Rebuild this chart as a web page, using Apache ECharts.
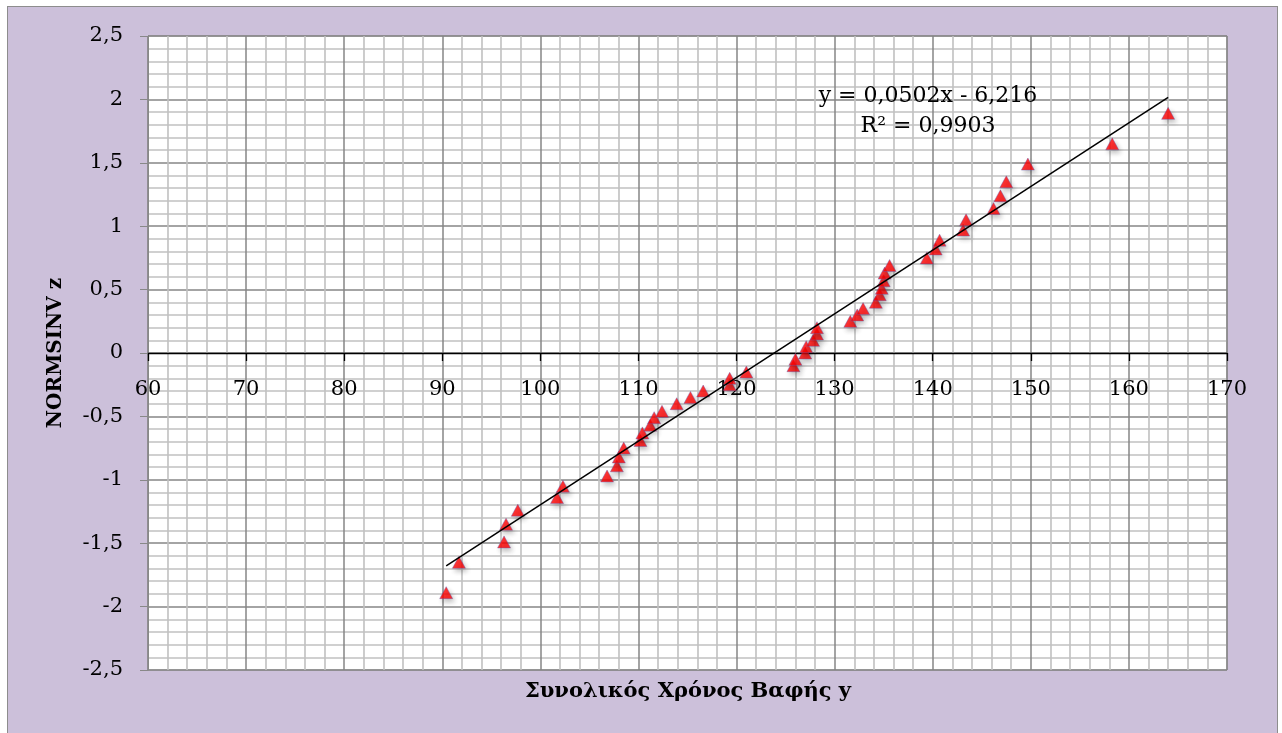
<!DOCTYPE html>
<html>
<head>
<meta charset="utf-8">
<title>NORMSINV z – Συνολικός Χρόνος Βαφής</title>
<script src="https://cdn.jsdelivr.net/npm/echarts@6/dist/echarts.min.js"></script>
<style>
  html, body { margin: 0; padding: 0; background: #ffffff; }
  #frame {
    position: absolute; left: 7px; top: 6px; width: 1271px; height: 731px;
    box-sizing: border-box; background: #CCC0DA; border: 1px solid #8D8D8D;
  }
  #chart { position: absolute; left: 0; top: 0; width: 1282px; height: 733px; }
</style>
</head>
<body>
<div id="frame"></div>
<div id="chart"></div>
<script>
// Total dyeing time (x) and the normal score of each observation (z)
const dyeTime = [
  90.4, 91.7, 96.3, 96.5, 97.7, 101.7, 102.3, 106.8, 107.8, 108.0,
  108.5, 110.2, 110.4, 111.2, 111.6, 112.4, 113.9, 115.3, 116.6, 119.3,
  119.3, 121.0, 125.8, 126.0, 127.0, 127.1, 127.8, 128.2, 128.2, 131.6,
  132.3, 132.9, 134.2, 134.6, 134.8, 135.0, 135.1, 135.6, 139.4, 140.3,
  140.7, 143.1, 143.4, 146.2, 146.9, 147.5, 149.7, 158.3, 164.0
];
const normScore = [
  -1.89, -1.65, -1.49, -1.35, -1.24, -1.14, -1.05, -0.97, -0.89, -0.82,
  -0.75, -0.69, -0.63, -0.57, -0.51, -0.46, -0.40, -0.35, -0.30, -0.25,
  -0.20, -0.15, -0.10, -0.05, 0.00, 0.05, 0.10, 0.15, 0.20, 0.25,
  0.30, 0.35, 0.40, 0.46, 0.51, 0.57, 0.63, 0.69, 0.75, 0.82,
  0.89, 0.97, 1.05, 1.14, 1.24, 1.35, 1.49, 1.65, 1.89
];

// Axis ranges
const xRange = { min: 60, max: 170, step: 10 };
const yRange = { min: -2.5, max: 2.5, step: 0.5 };

// Linear trend line coefficients
const trendSlope = 0.0502;
const trendIntercept = -6.216;
const trendR2 = 0.9903;

// Axis titles
const xTitle = 'Συνολικός Χρόνος Βαφής y';
const yTitle = 'NORMSINV z';

const FONT = '"DejaVu Serif", "Liberation Serif", serif';
const comma = v => String(v).replace('.', ',');

const GRID = { left: 148, top: 36, width: 1079, height: 634 };
// the horizontal axis crosses the vertical one at z = 0
const xAxisOffset = -GRID.height * (0 - yRange.min) / (yRange.max - yRange.min);

const points = dyeTime.map((x, i) => [x, normScore[i]]);
const xMin = Math.min(...dyeTime), xMax = Math.max(...dyeTime);
const trend = [xMin, xMax].map(x => [x, trendSlope * x + trendIntercept]);

const eqText = 'y = ' + comma(trendSlope.toFixed(4)) + 'x ' +
  (trendIntercept < 0 ? '- ' : '+ ') + comma(Math.abs(trendIntercept).toFixed(3));
const r2Text = 'R² = ' + comma(trendR2.toFixed(4));

const majorLine = { color: '#868686', width: 1.5 };
const minorLine = { color: '#c0c0c0', width: 1.6 };

const chart = echarts.init(document.getElementById('chart'), null, { renderer: 'canvas' });
chart.setOption({
  animation: false,
  backgroundColor: 'transparent',
  grid: Object.assign({
    show: true, backgroundColor: '#ffffff', borderColor: '#888888', borderWidth: 1
  }, GRID),
  xAxis: {
    type: 'value', min: xRange.min, max: xRange.max, interval: xRange.step,
    position: 'bottom', offset: xAxisOffset,
    axisLine: { show: true, onZero: false, lineStyle: { color: '#000', width: 1.3 } },
    axisTick: { show: true, length: 8, lineStyle: { color: '#000', width: 1.3 } },
    axisLabel: {
      margin: 26, fontFamily: FONT, fontSize: 21, color: '#000',
      showMinLabel: true, showMaxLabel: true, formatter: v => comma(v)
    },
    splitLine: { show: true, lineStyle: majorLine },
    minorTick: { show: false, splitNumber: 5 },
    minorSplitLine: { show: true, lineStyle: minorLine }
  },
  yAxis: {
    type: 'value', min: yRange.min, max: yRange.max, interval: yRange.step,
    axisLine: { show: true, onZero: false, lineStyle: { color: '#888', width: 1 } },
    axisTick: { show: true, length: 8, lineStyle: { color: '#888', width: 1 } },
    axisLabel: {
      margin: 25, fontFamily: FONT, fontSize: 21, color: '#000',
      showMinLabel: true, showMaxLabel: true, formatter: v => comma(v)
    },
    splitLine: { show: true, lineStyle: majorLine },
    minorTick: { show: false, splitNumber: 5 },
    minorSplitLine: { show: true, lineStyle: minorLine },
    name: yTitle, nameLocation: 'middle', nameGap: 82, nameRotate: 90,
    nameTextStyle: { fontFamily: FONT, fontWeight: 'bold', fontSize: 20, color: '#000' }
  },
  series: [
    {
      type: 'scatter', data: points, z: 2,
      symbol: 'triangle', symbolSize: [13, 12],
      itemStyle: {
        color: '#FF0000', borderColor: '#6A5AB0', borderWidth: 0.5,
        shadowBlur: 5, shadowColor: 'rgba(0,0,0,0.3)', shadowOffsetX: 2, shadowOffsetY: 3
      },
      emphasis: { disabled: true }
    },
    {
      type: 'line', data: trend, z: 3, symbol: 'none', showSymbol: false,
      lineStyle: { color: '#000', width: 1.5 },
      emphasis: { disabled: true }
    }
  ],
  graphic: [
    {
      type: 'text', x: 688, y: 692, z: 10,
      style: {
        text: xTitle, font: 'bold 21px ' + FONT, fill: '#000',
        align: 'center', verticalAlign: 'middle'
      }
    },
    {
      type: 'text', x: 928, y: 96, z: 10,
      style: { text: eqText, font: '22px ' + FONT, fill: '#000', align: 'center', verticalAlign: 'middle' }
    },
    {
      type: 'text', x: 928, y: 126, z: 10,
      style: { text: r2Text, font: '22px ' + FONT, fill: '#000', align: 'center', verticalAlign: 'middle' }
    }
  ]
});
</script>
</body>
</html>
